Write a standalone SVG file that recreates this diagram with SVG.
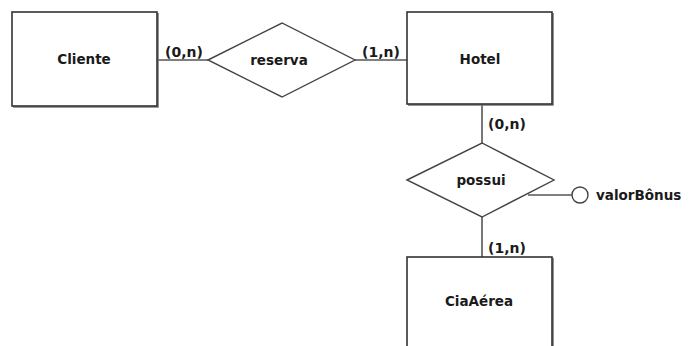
<svg xmlns="http://www.w3.org/2000/svg" width="689" height="346" viewBox="0 0 689 346">
<style>
text{font-family:"DejaVu Sans","Verdana",sans-serif;font-weight:bold;fill:#1a1a1a}
.lbl{font-size:13.5px;text-anchor:middle}
.card{font-size:14px}
.ent{fill:#fff;stroke:#333;stroke-width:1.6}
.shadow{fill:none;stroke:#777;stroke-width:1.6}
.rel{fill:#fff;stroke:#444;stroke-width:1.4}
.con{stroke:#555;stroke-width:1.6;fill:none}
</style>
<rect width="689" height="346" fill="#fff"/>
<g id="connectors">
<line class="con" x1="157" y1="60" x2="208" y2="60"/>
<line class="con" x1="355" y1="60" x2="407" y2="60"/>
<line class="con" x1="482" y1="104" x2="482" y2="143"/>
<line class="con" x1="482" y1="217" x2="482" y2="257"/>
<line class="con" x1="528" y1="195" x2="572" y2="195"/>
<text class="card" x="165" y="57">(0,n)</text>
<text class="card" x="362" y="57">(1,n)</text>
<text class="card" x="488" y="129">(0,n)</text>
<text class="card" x="488" y="253">(1,n)</text>
</g>
<g id="cliente">
<polyline class="shadow" points="158,13 158,107 13,107"/>
<rect class="ent" x="12" y="12" width="145" height="94"/>
<text class="lbl" x="84" y="64">Cliente</text>
</g>
<g id="reserva">
<polygon class="rel" points="208,60 282,23 355,60 282,97"/>
<text class="lbl" x="279" y="65">reserva</text>
</g>
<g id="hotel">
<polyline class="shadow" points="553,13 553,105 408,105"/>
<rect class="ent" x="407" y="12" width="145" height="92"/>
<text class="lbl" x="480" y="64">Hotel</text>
</g>
<g id="possui">
<polygon class="rel" points="407,180 482,143 554,180 482,217"/>
<text class="lbl" x="481" y="185">possui</text>
</g>
<g id="valorBonus">
<circle cx="580" cy="195" r="8" fill="#fff" stroke="#444" stroke-width="1.4"/>
<text x="596" y="200" style="font-size:13.5px">valorBônus</text>
</g>
<g id="ciaaerea">
<polyline class="shadow" points="553,258 553,350"/>
<rect class="ent" x="407" y="257" width="145" height="100"/>
<text class="lbl" x="479" y="306">CiaAérea</text>
</g>
</svg>
